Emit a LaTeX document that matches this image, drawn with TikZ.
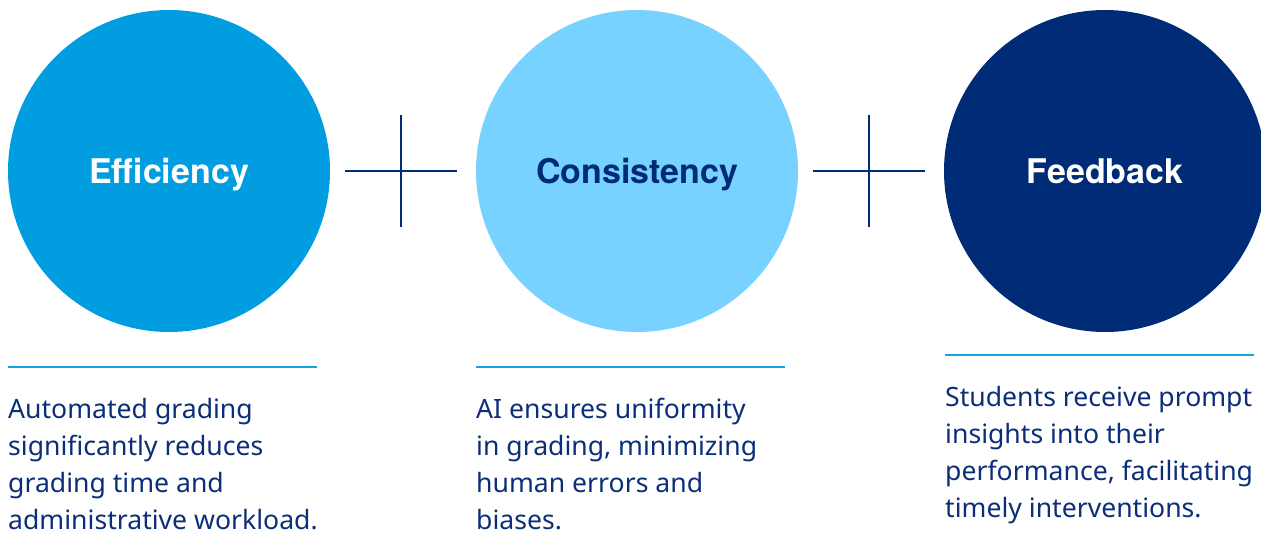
\documentclass[tikz,border=0pt]{standalone}
\usepackage{fontspec}
\setmainfont{Noto Sans}
\newfontfamily\headfont{TeX Gyre Heros}
\usetikzlibrary{positioning, calc}

\definecolor{midblue}{HTML}{009EE0}
\definecolor{skyblue}{HTML}{77D2FF}
\definecolor{navyblue}{HTML}{002B76}
\definecolor{inkblue}{HTML}{0B2E78}
\definecolor{ruleblue}{HTML}{18A3E4}

\tikzset{
  disc/.style={circle, minimum size=322pt, inner sep=0pt,
    text height=30pt, text depth=6pt,
    font=\headfont\bfseries\fontsize{34}{40}\selectfont},
  blurb/.style={anchor=base west, align=left, inner sep=0pt, text=inkblue,
    font=\fontsize{26.6}{37}\selectfont},
  plusbar/.style={draw=navyblue, line width=2.8pt},
  rule/.style={draw=ruleblue, line width=2.8pt}
}

\begin{document}
\begin{tikzpicture}[x=1pt, y=-1pt, node distance=468pt, on grid]
   \useasboundingbox (0,0) rectangle (1261,535);
   \clip (0,0) rectangle (1261,535);

   \node[disc, fill=midblue, text=white]  (eff) at (169,171) {Efficiency};
   \node[disc, fill=skyblue, text=navyblue] (con) [right=of eff] {Consistency};
   \node[disc, fill=navyblue, text=white] (fb)  [right=of con] {Feedback};

   % plus signs between the discs
   \coordinate (plusA) at (401,171);
   \coordinate (plusB) at (869,171);
   \foreach \p in {plusA, plusB} {
     \draw[plusbar] ($(\p)+(-56,0)$) -- ($(\p)+(56,0)$);
     \draw[plusbar] ($(\p)+(0,-56)$) -- ($(\p)+(0,56)$);
   }

   % rules under the discs
   \draw[rule] (8,367) -- (317,367);
   \draw[rule] (476,367) -- (785,367);
   \draw[rule] (945,355) -- (1254,355);

   % anchored at the baseline of the last line
   \node[blurb] (effText) at (8,529)
     {Automated grading\\significantly reduces\\grading time and\\administrative workload.};
   \node[blurb] (conText) at (476,529)
     {AI ensures uniformity\\in grading, minimizing\\human errors and\\biases.};
   \node[blurb] (fbText) at (945,517)
     {Students receive prompt\\insights into their\\performance, facilitating\\timely interventions.};
\end{tikzpicture}
\end{document}
